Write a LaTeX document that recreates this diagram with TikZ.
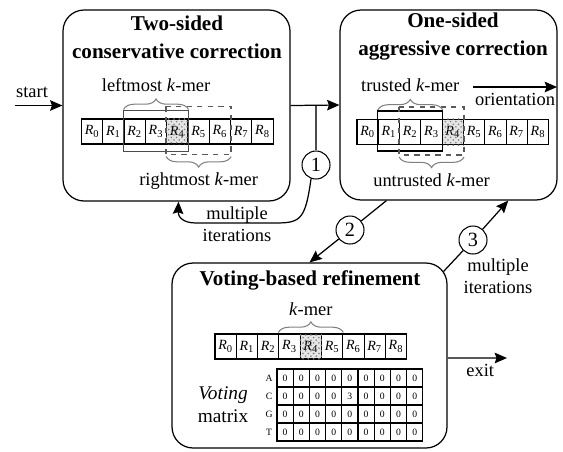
\documentclass[tikz,border=0pt]{standalone}
\usepackage{fontspec}
\setmainfont{Liberation Serif}
\usetikzlibrary{arrows.meta}
\usetikzlibrary{calc}
\usetikzlibrary{decorations.pathreplacing}
\usetikzlibrary{patterns}

\tikzset{
  stage/.style={draw, rounded corners=0.42cm, line width=0.7pt},
  title/.style={font=\bfseries\fontsize{12}{16}\selectfont, align=center},
  txt/.style={font=\fontsize{10.5}{12.5}\selectfont, align=center, inner sep=1pt},
  cell/.style={draw, line width=0.6pt, minimum width=0.426cm, minimum height=0.5cm, inner sep=0pt, font=\fontsize{8}{9}\selectfont},
  mcell/.style={draw, line width=0.6pt, minimum width=0.324cm, minimum height=0.36cm, inner sep=0pt, font=\fontsize{5.5}{6}\selectfont},
  kbrace/.style={draw=gray, line width=0.6pt, decorate, decoration={brace, amplitude=6pt}},
  seed/.style={pattern=crosshatch dots, pattern color=gray},
  num/.style={draw, circle, minimum size=0.56cm, inner sep=0pt, line width=0.6pt, font=\fontsize{11.5}{12}\selectfont},
  arr/.style={-{Stealth[length=7pt, width=6pt, inset=1pt]}, line width=0.7pt},
}

\begin{document}
\begin{tikzpicture}[x=0.02cm, y=-0.02cm]
            \useasboundingbox (0,0) rectangle (563,451);

            % the three stages
            \node[stage, minimum width=4.54cm, minimum height=3.82cm] (tsc) at (176.5,105.5) {};
            \node[stage, minimum width=4.34cm, minimum height=3.8cm] (osa) at (448.5,105) {};
            \node[stage, minimum width=5.5cm, minimum height=3.7cm] (vbr) at (309.5,355.5) {};
            \node[title] (tsct) at (177,37.5) {Two-sided\\conservative correction};
            \node[title] (osat) at (453,36.5) {One-sided\\aggressive correction};
            \node[title] (vbrt) at (310,280) {Voting-based refinement};

            % two-sided
            \fill[gray!20] (166.7,119) rectangle (188,144);
            \foreach \i in {0,...,8}
                \node[cell] (a\i) at ({81.5+21.3*(\i+0.5)},131.5) {\textit{R}\textsubscript{\i}};
            \path[seed] (a4.south west) rectangle (a4.north east);
            \draw[gray!60!black, line width=1pt] ($(a2.north west)+(0,-8)$) rectangle ($(a4.south east)+(0,7)$);
            \draw[gray!70!black, dashed, line width=0.9pt] ($(a4.north west)+(0,-12)$) rectangle ($(a6.south east)+(0,10)$);
            \draw[kbrace] ($(a2.north west)+(0,-9)$) -- ($(a4.north east)+(0,-9)$)
                node[txt, midway, above=9pt] (lkm) {leftmost \textit{k}-mer};
            \draw[kbrace] ($(a6.south east)+(0,12)$) -- ($(a4.south west)+(0,12)$)
                node[txt, midway, below=8pt] (rkm) {rightmost \textit{k}-mer};

            % one-sided
            \fill[gray!20] (442.2,119) rectangle (463.5,145);
            \foreach \i in {0,...,8}
                \node[cell] (b\i) at ({357+21.3*(\i+0.5)},132) {\textit{R}\textsubscript{\i}};
            \path[seed] (b4.south west) rectangle (b4.north east);
            \draw[line width=0.7pt] ($(b1.north west)+(0,-8)$) rectangle ($(b3.south east)+(0,6)$);
            \draw[gray!70!black, dashed, line width=0.9pt] ($(b2.north west)+(0,-12)$) rectangle ($(b4.south east)+(0,10)$);
            \draw[kbrace] ($(b1.north west)+(0,-9)$) -- ($(b3.north east)+(0,-9)$)
                node[txt, midway, above=9pt] (tkm) {trusted \textit{k}-mer};
            \draw[kbrace] ($(b4.south east)+(0,12)$) -- ($(b2.south west)+(0,12)$)
                node[txt, midway, below=8pt] (ukm) {untrusted \textit{k}-mer};
            \coordinate (oris) at (473,87);
            \coordinate (orie) at (557,87);
            \draw[arr] (oris) -- (orie) node[txt, midway, below=2pt] (orit) {orientation};

            % voting
            \fill[gray!20] (300.2,334) rectangle (321.5,359);
            \foreach \i in {0,...,8}
                \node[cell] (c\i) at ({215+21.3*(\i+0.5)},346.5) {\textit{R}\textsubscript{\i}};
            \path[seed] (c4.south west) rectangle (c4.north east);
            \draw[kbrace] ($(c3.north west)+(0,-1)$) -- ($(c5.north east)+(0,-1)$)
                node[txt, midway, above=8pt] (kme) {\textit{k}-mer};
            \foreach \r/\l in {0/A,1/C,2/G,3/T} {
                \node[font=\fontsize{5.5}{6}\selectfont, inner sep=0pt] (l\r) at (269,{378+18*\r}) {\l};
                \foreach \c in {0,...,8} {
                    \def\v{0}
                    \ifnum\r=1 \ifnum\c=4 \def\v{3}\fi\fi
                    \node[mcell] (m\r\c) at ({277+16.2*(\c+0.5)},{378+18*\r}) {\v};
                }
            }
            \node[txt, font=\fontsize{11}{13}\selectfont] (vmx) at (223,405) {\textit{Voting}\\matrix};

            % flow between the stages
            \node[num] (n1) at (316,165) {1};
            \node[num] (n2) at (350,230) {2};
            \node[num] (n3) at (473,240) {3};
            \coordinate (start) at (15,105.5);
            \coordinate (back) at ($(tsc.south)+(2,0)$);
            \coordinate (exit) at (507,358);
            \draw[arr] (start) -- (tsc.west) node[txt, pos=0.36, above=3pt] (startt) {start};
            \draw[arr] (tsc.east) -- (osa.west);
            \draw[gray!60!black, line width=0.7pt] (n1) -- (n1 |- tsc.east);
            \draw[arr] (n1.250) .. controls (305,222) and (300,223) .. (272,223) -- (196,223)
                .. controls (182,223) and (178,216) .. (back);
            \node[txt] (it1) at (237,224) {multiple\\iterations};
            \draw[line width=0.7pt] (osa.237) -- (n2);
            \draw[arr] (n2) -- (vbr.north);
            \draw[line width=0.7pt] ($(vbr.north east)+(-4,9)$) -- (n3);
            \draw[arr] (n3) -- (osa.302);
            \node[txt] (it3) at (498,276) {multiple\\iterations};
            \draw[arr, gray!70!black, -{Stealth[length=7pt, width=6pt, inset=1pt, black]}] (vbr.east |- exit) -- (exit)
                node[txt, pos=0.55, below=2pt, black] (exitt) {exit};
        \end{tikzpicture}
\end{document}
